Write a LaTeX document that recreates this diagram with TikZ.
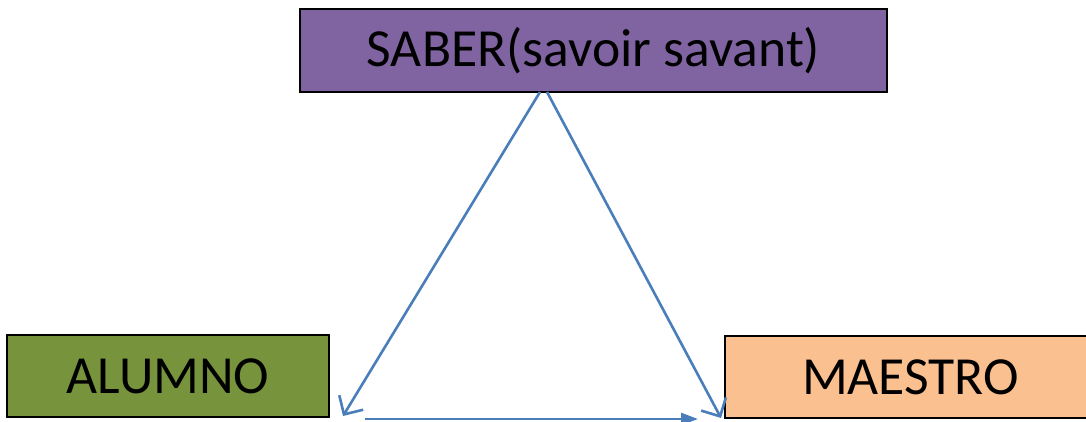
\documentclass[tikz,border=0pt]{standalone}
\usepackage{fontspec}
\setmainfont{Carlito}
\usetikzlibrary{arrows.meta}
\definecolor{saberc}{HTML}{8064A2}
\definecolor{alumnoc}{HTML}{77933C}
\definecolor{maestroc}{HTML}{FAC090}
\definecolor{linec}{HTML}{4A7EBB}
\tikzset{
  box/.style={draw=black, line width=1pt, rectangle, inner sep=0pt, font=\fontsize{26.8}{32}\selectfont, text=black},
  conn/.style={draw=linec, line width=1.3pt},
  openhead/.style={-{Straight Barb[length=7pt,width=14pt,line width=1.3pt]}},
  fillhead/.style={-{Triangle[length=8.5pt,width=6pt]}},
}
\begin{document}
\begin{tikzpicture}[x=0.5pt,y=-0.5pt]
\useasboundingbox (0,0) rectangle (1086,422);
\begin{scope}
\clip (0,0) rectangle (1086,422);
\node[box, fill=saberc, minimum width=293.5pt, minimum height=41.5pt] (saber) at (593.5,50.5) {SABER(savoir savant)};
\node[box, fill=alumnoc, minimum width=161pt, minimum height=41pt] (alumno) at (168,376) {ALUMNO};
\node[box, fill=maestroc, minimum width=185.5pt, minimum height=41pt, anchor=west] (maestro) at (724,377) {MAESTRO};
\coordinate (sl) at (540,92);
\coordinate (sr) at (547,92);
\coordinate (al) at (343,416);
\coordinate (mr) at (721,418);
\coordinate (bs) at (365,419);
\coordinate (be) at (698,419);
\draw[conn, openhead] (sl) -- (al);
\draw[conn, openhead] (sr) -- (mr);
\draw[conn, fillhead] (bs) -- (be);
\end{scope}
\end{tikzpicture}
\end{document}
